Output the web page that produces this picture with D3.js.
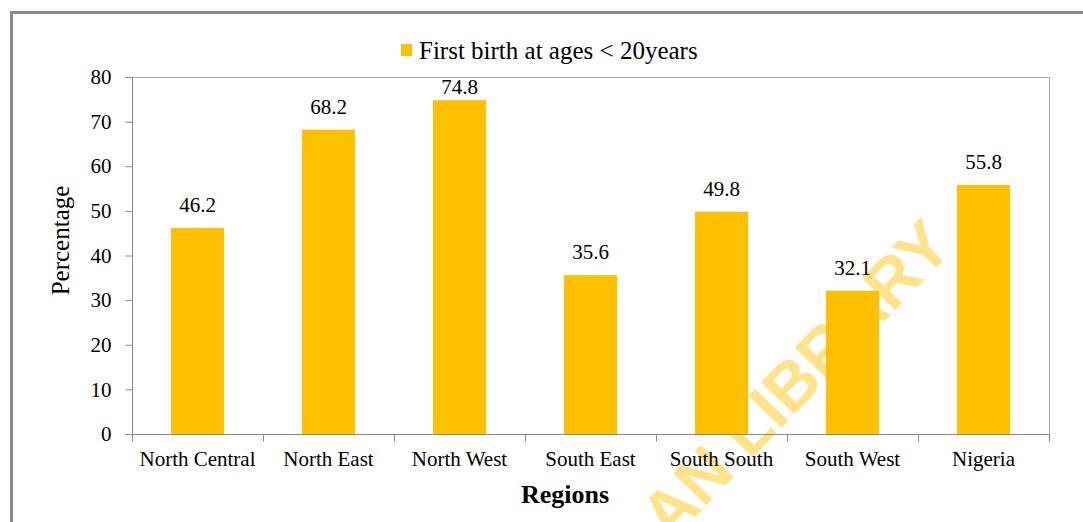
<!DOCTYPE html>
<html>
<head>
<meta charset="utf-8">
<script src="https://cdn.jsdelivr.net/npm/d3@7"></script>
<style>
  body { margin: 0; background: #fff; }
</style>
</head>
<body>
<div id="chart"></div>
<script>
var regions = ['North Central', 'North East', 'North West', 'South East',
               'South South', 'South West', 'Nigeria'];
var firstBirth = [46.2, 68.2, 74.8, 35.6, 49.8, 32.1, 55.8];
var yTicks = [0, 10, 20, 30, 40, 50, 60, 70, 80];
var seriesName = 'First birth at ages < 20years';

var SERIF = '"Liberation Serif", "Times New Roman", serif';
var W = 1083, H = 522;
var margin = {top: 77, right: 34, bottom: 88, left: 132};
var plotW = W - margin.left - margin.right,
    plotH = H - margin.top - margin.bottom;

var svg = d3.select('#chart').append('svg')
  .attr('width', W)
  .attr('height', H)
  .style('font-family', SERIF);

// outer frame
svg.append('rect')
  .attr('x', 11.5).attr('y', 12.5)
  .attr('width', 1200).attr('height', 600)
  .attr('fill', 'none')
  .attr('stroke', '#8a8a8a')
  .attr('stroke-width', 3);

// watermark (sits behind the bars)
svg.append('text')
  .attr('transform', 'translate(955,248) rotate(-46)')
  .attr('text-anchor', 'end')
  .style('font-family', '"Liberation Sans", Arial, sans-serif')
  .style('font-weight', 'bold')
  .style('font-size', '67px')
  .style('fill', '#ffe38a')
  .text('IBADAN LIBRARY');

var x = d3.scaleBand()
  .domain(regions)
  .range([margin.left, margin.left + plotW])
  .paddingInner(0.595)
  .paddingOuter(0.2975);

var y = d3.scaleLinear()
  .domain([0, 80])
  .range([margin.top + plotH, margin.top]);

var data = regions.map(function(r, i) { return {region: r, value: firstBirth[i]}; });

// plot area border (top, right)
svg.append('path')
  .attr('d', 'M' + margin.left + ',' + (y(80) + 0.5) + 'H' + (margin.left + plotW + 0.5) + 'V' + y(0))
  .attr('fill', 'none')
  .attr('stroke', '#a6a6a6')
  .attr('stroke-width', 1);

// bars
svg.selectAll('rect.bar')
  .data(data)
  .enter()
  .append('rect')
  .attr('class', 'bar')
  .attr('x', function(d) { return x(d.region); })
  .attr('y', function(d) { return y(d.value); })
  .attr('width', x.bandwidth())
  .attr('height', function(d) { return y(0) - y(d.value); })
  .attr('fill', '#ffc000');

// value labels (kept inside the plot area like Excel does)
svg.selectAll('text.val')
  .data(data)
  .enter()
  .append('text')
  .attr('class', 'val')
  .attr('x', function(d) { return x(d.region) + x.bandwidth() / 2; })
  .attr('y', function(d) { return Math.max(y(d.value) - 16, y(80) + 17); })
  .attr('text-anchor', 'middle')
  .style('font-family', SERIF)
  .style('font-size', '21px')
  .text(function(d) { return d.value.toFixed(1); });

// y axis
var yAxis = d3.axisLeft(y)
  .tickValues(yTicks)
  .tickSize(7)
  .tickPadding(14);

var gy = svg.append('g')
  .attr('transform', 'translate(' + (margin.left + 0.5) + ',0)')
  .call(yAxis);
gy.selectAll('path, line').attr('stroke', '#8a8a8a');
gy.select('.domain').attr('d', 'M0,' + y(80) + 'V' + y(0));
gy.attr('font-family', null).attr('font-size', null);
gy.selectAll('text')
  .style('font-family', SERIF)
  .style('font-size', '21px')
  .attr('fill', '#000');

// x axis with ticks at category boundaries
var gx = svg.append('g')
  .attr('transform', 'translate(0,' + (y(0) + 0.5) + ')');
gx.append('line')
  .attr('x1', margin.left).attr('x2', margin.left + plotW + 0.5)
  .attr('stroke', '#8a8a8a');
var bounds = d3.range(regions.length + 1).map(function(i) {
  return margin.left + i * x.step();
});
gx.selectAll('line.tick')
  .data(bounds)
  .enter()
  .append('line')
  .attr('class', 'tick')
  .attr('x1', function(d) { return Math.round(d) + 0.5; })
  .attr('x2', function(d) { return Math.round(d) + 0.5; })
  .attr('y1', 0).attr('y2', 7)
  .attr('stroke', '#8a8a8a');
gx.selectAll('text.cat')
  .data(regions)
  .enter()
  .append('text')
  .attr('class', 'cat')
  .attr('x', function(d) { return x(d) + x.bandwidth() / 2; })
  .attr('y', 31)
  .attr('text-anchor', 'middle')
  .style('font-family', SERIF)
  .style('font-size', '21px')
  .text(function(d) { return d; });

// axis titles
svg.append('text')
  .attr('x', 565)
  .attr('y', 503)
  .attr('text-anchor', 'middle')
  .style('font-family', SERIF)
  .style('font-size', '26px')
  .style('font-weight', 'bold')
  .text('Regions');

svg.append('text')
  .attr('transform', 'translate(69,' + (margin.top + plotH / 2 - 15) + ') rotate(-90)')
  .attr('text-anchor', 'middle')
  .style('font-family', SERIF)
  .style('font-size', '25px')
  .text('Percentage');

// legend
var legend = svg.append('g').attr('transform', 'translate(401,44)');
legend.append('rect')
  .attr('width', 11).attr('height', 12)
  .attr('fill', '#ffc000');
legend.append('text')
  .attr('x', 18).attr('y', 15)
  .style('font-family', SERIF)
  .style('font-size', '25px')
  .text(seriesName);
</script>
</body>
</html>
